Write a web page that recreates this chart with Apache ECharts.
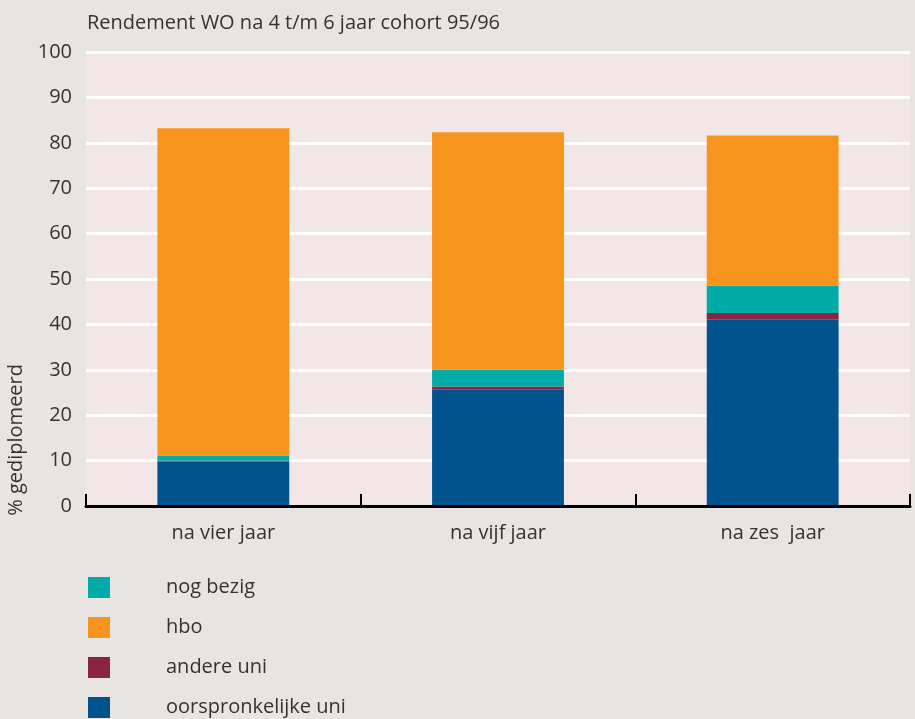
<!DOCTYPE html>
<html>
<head>
<meta charset="utf-8">
<script src="https://cdn.jsdelivr.net/npm/echarts@6/dist/echarts.min.js"></script>
<style>
  html, body { margin: 0; padding: 0; background: #e8e4e1; }
  #chart { width: 915px; height: 719px; }
</style>
</head>
<body>
<div id="chart"></div>
<script>
var categories = ['na vier jaar', 'na vijf jaar', 'na zes  jaar'];
var oorspronkelijkeUni = [9.8, 25.6, 41.0];
var andereUni = [0.2, 0.7, 1.5];
var nogBezig = [1.1, 3.7, 6.0];
var hbo = [72.1, 52.3, 33.1];
var legendOrder = ['nog bezig', 'hbo', 'andere uni', 'oorspronkelijke uni'];

var font = '"Open Sans", sans-serif';
var myChart = echarts.init(document.getElementById('chart'));

function bar(name, data, color) {
    return {
        name: name,
        type: 'bar',
        stack: 'total',
        barWidth: '48%',
        data: data,
        itemStyle: { color: color },
        emphasis: { disabled: true }
    };
}

var option = {
    backgroundColor: '#e8e4e1',
    animation: false,
    title: {
        text: 'Rendement WO na 4 t/m 6 jaar cohort 95/96',
        left: 82,
        top: 8,
        textStyle: { fontFamily: font, fontSize: 20, fontWeight: 'normal', color: '#333' }
    },
    graphic: [{
        type: 'text',
        left: 6,
        top: 364,
        rotation: Math.PI / 2,
        style: { text: '% gediplomeerd', font: '20px ' + font, fill: '#333' }
    }],
    legend: {
        orient: 'vertical',
        left: 88,
        top: 577,
        height: 200,
        padding: 0,
        itemWidth: 22,
        itemHeight: 21,
        itemGap: 19,
        icon: 'rect',
        data: legendOrder,
        textStyle: { fontFamily: font, fontSize: 20, lineHeight: 21, color: '#333', padding: [0, 0, 0, 51] }
    },
    grid: {
        left: 86,
        right: 5,
        top: 52,
        bottom: 213,
        show: true,
        backgroundColor: '#f2e6e6',
        borderWidth: 0
    },
    xAxis: {
        type: 'category',
        data: categories,
        axisLine: { lineStyle: { color: '#000', width: 3 } },
        axisTick: { show: true, inside: true, length: 12, lineStyle: { color: '#000', width: 2 } },
        axisLabel: { fontFamily: font, fontSize: 20, color: '#333', margin: 17 },
        z: 5
    },
    yAxis: {
        type: 'value',
        min: 0,
        max: 100,
        interval: 10,
        axisLine: { show: false },
        axisTick: { show: false },
        axisLabel: { fontFamily: font, fontSize: 20, color: '#333', margin: 14 },
        splitLine: { lineStyle: { color: '#ffffff', width: 3 } }
    },
    series: [
        bar('oorspronkelijke uni', oorspronkelijkeUni, '#00538c'),
        bar('andere uni', andereUni, '#8b2443'),
        bar('nog bezig', nogBezig, '#00aba8'),
        bar('hbo', hbo, '#f7941e')
    ]
};
myChart.setOption(option);
</script>
</body>
</html>
